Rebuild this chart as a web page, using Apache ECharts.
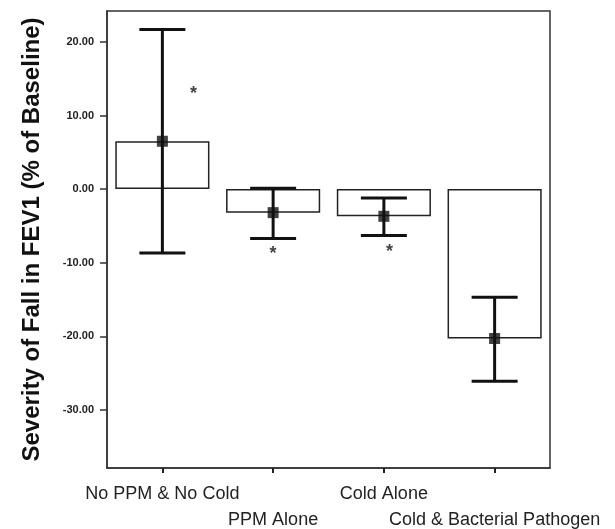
<!DOCTYPE html>
<html>
<head>
    <meta charset="utf-8">
    <title>FEV1 fall</title>
    <script src="https://cdn.jsdelivr.net/npm/echarts@6/dist/echarts.min.js"></script>
    <style>
        html, body { margin: 0; padding: 0; background: #fff; }
        #main { width: 615px; height: 529px; }
    </style>
</head>
<body>
<div id="main"></div>
<script>
    // groups
    var categories = ['No PPM & No Cold', 'PPM Alone', 'Cold Alone', 'Cold & Bacterial Pathogen'];
    // mean fall (bar height and square marker)
    var means = [6.5, -3.2, -3.7, -20.3];
    // error bar ends
    var errHigh = [21.7, 0.1, -1.2, -14.7];
    var errLow = [-8.7, -6.7, -6.3, -26.1];
    // asterisks: [x in category units, y]
    var stars = [[0.28, 13.5], [1.0, -8.3], [2.05, -8.0]];
    var yTicks = [20, 10, 0, -10, -20, -30];
    var yMin = -37.9, yMax = 24.2;

    var chart = echarts.init(document.getElementById('main'));

    var errData = [];
    for (var i = 0; i < categories.length; i++) {
        errData.push([i, errLow[i], errHigh[i]]);
    }

    var option = {
        animation: false,
        grid: {
            left: 107, top: 11, right: 65, bottom: 61,
            outerBoundsMode: 'none', containLabel: false,
            show: true, borderColor: '#333', borderWidth: 1.5, backgroundColor: '#fff'
        },
        xAxis: [{
            type: 'category',
            data: categories,
            axisLine: { show: true, onZero: false, lineStyle: { color: '#333', width: 1.5 } },
            axisTick: { show: true, alignWithLabel: true, length: 5, lineStyle: { color: '#222', width: 2 } },
            axisLabel: {
                interval: 0, margin: 13, color: '#222', fontSize: 18, lineHeight: 26,
                fontFamily: 'Liberation Sans, Arial, sans-serif',
                formatter: function (v, idx) { return (idx % 2 ? '\n' : '') + v; }
            },
            splitLine: { show: false }
        }, {
            type: 'value', min: -0.5, max: 3.5, show: false
        }],
        yAxis: {
            type: 'value', min: yMin, max: yMax,
            name: 'Severity of Fall in FEV1 (% of Baseline)',
            nameLocation: 'middle', nameGap: 63,
            nameTextStyle: { fontSize: 24, fontWeight: 'bold', color: '#111', fontFamily: 'Liberation Sans, Arial, sans-serif' },
            axisLine: { show: true, onZero: false, lineStyle: { color: '#333', width: 1.5 } },
            axisTick: { show: true, length: 7, customValues: yTicks, lineStyle: { color: '#333', width: 1.5 } },
            axisLabel: {
                customValues: yTicks, margin: 13, color: '#222', fontSize: 11, fontWeight: 'bold',
                fontFamily: 'Liberation Sans, Arial, sans-serif',
                formatter: function (v) { return v.toFixed(2); }
            },
            splitLine: { show: false }
        },
        series: [{
            type: 'bar',
            data: means,
            barWidth: '85%',
            itemStyle: { color: '#fff', borderColor: '#222', borderWidth: 1.5 },
            z: 2
        }, {
            type: 'custom',
            data: errData,
            z: 3,
            renderItem: function (params, api) {
                var x = api.value(0);
                var lo = api.coord([x, api.value(1)]);
                var hi = api.coord([x, api.value(2)]);
                var half = 23;
                var st = { stroke: '#111', lineWidth: 3 };
                return {
                    type: 'group',
                    children: [
                        { type: 'line', shape: { x1: hi[0], y1: hi[1], x2: lo[0], y2: lo[1] }, style: st },
                        { type: 'line', shape: { x1: hi[0] - half, y1: hi[1], x2: hi[0] + half, y2: hi[1] }, style: st },
                        { type: 'line', shape: { x1: lo[0] - half, y1: lo[1], x2: lo[0] + half, y2: lo[1] }, style: st }
                    ]
                };
            }
        }, {
            type: 'scatter',
            data: means,
            symbol: 'rect',
            symbolSize: 11,
            itemStyle: { color: '#111' },
            z: 4
        }, {
            type: 'scatter',
            xAxisIndex: 1,
            data: stars,
            symbolSize: 0,
            label: {
                show: true, position: 'inside', formatter: '*',
                fontSize: 18, fontWeight: 'bold', color: '#111', offset: [0, 4]
            },
            z: 4
        }]
    };

    chart.setOption(option);
</script>
</body>
</html>
